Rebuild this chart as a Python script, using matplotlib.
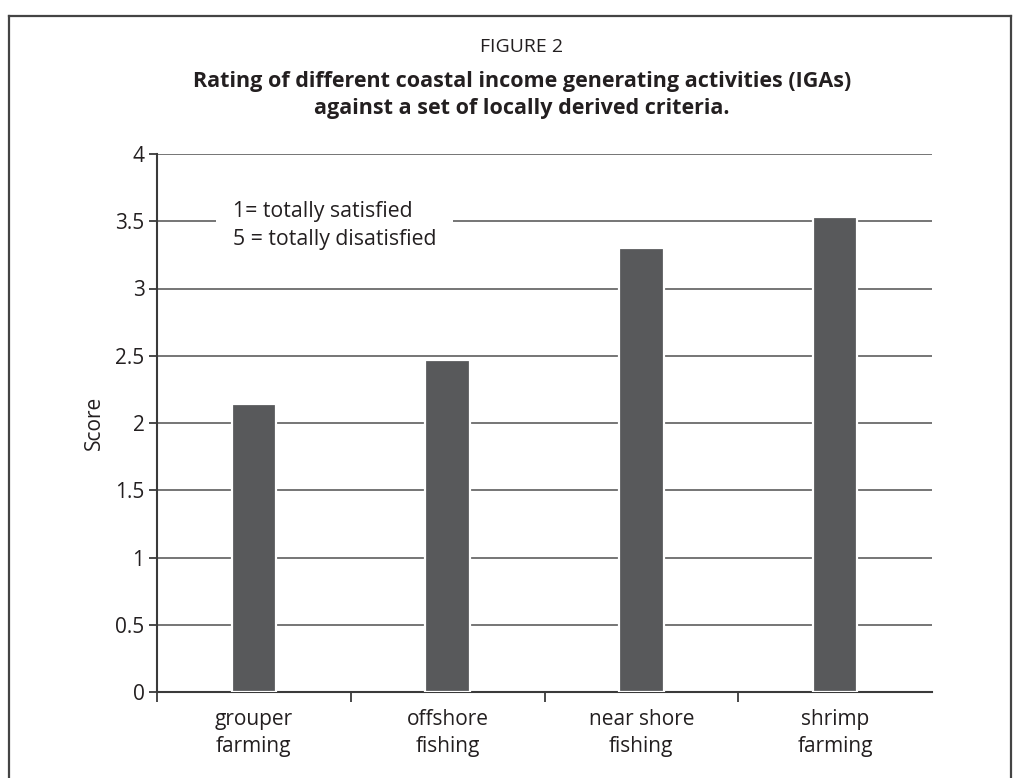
import matplotlib
matplotlib.use("Agg")
import matplotlib.pyplot as plt
from matplotlib.lines import Line2D

plt.rcParams['font.family'] = ['Open Sans', 'DejaVu Sans']

categories = ["grouper\nfarming", "offshore\nfishing", "near shore\nfishing", "shrimp\nfarming"]
scores = [2.14, 2.47, 3.30, 3.53]
yticks = [0, 0.5, 1, 1.5, 2, 2.5, 3, 3.5, 4]
ytick_labels = ["0", "0.5", "1", "1.5", "2", "2.5", "3", "3.5", "4"]

BAR_COLOR = "#58595b"
TEXT_COLOR = "#231f20"
GRID_COLOR = "#6a6a6a"
SPINE_COLOR = "#3a3a3a"

fig = plt.figure(figsize=(10.2, 7.78), dpi=100)
ax = fig.add_axes([157 / 1020, 1 - 692 / 778, (932 - 157) / 1020, (692 - 154) / 778])

x = list(range(len(categories)))
ax.bar(x, scores, width=0.23, color=BAR_COLOR, edgecolor="white", linewidth=1.6, zorder=3)

ax.set_xlim(-0.5, len(categories) - 0.5)
ax.set_ylim(0, 4)
ax.set_yticks(yticks)
ax.set_yticklabels(ytick_labels)
ax.yaxis.grid(True, color=GRID_COLOR, linewidth=1.3, zorder=1)
ax.set_axisbelow(True)

# category boundaries carry the tick marks, labels sit under the bars
ax.set_xticks([i - 0.5 for i in x])
ax.set_xticklabels([])
ax.set_xticks(x, minor=True)
ax.set_xticklabels(categories, minor=True, fontsize=15, color=TEXT_COLOR, linespacing=1.4)
ax.tick_params(axis="x", which="major", length=7, width=1.3, color=SPINE_COLOR, direction="out")
ax.tick_params(axis="x", which="minor", length=0, pad=12)
ax.tick_params(axis="y", length=6, width=1.3, color=SPINE_COLOR, labelsize=15, labelcolor=TEXT_COLOR, pad=3)

for side in ("top", "right"):
    ax.spines[side].set_visible(False)
for side in ("left", "bottom"):
    ax.spines[side].set_color(SPINE_COLOR)
    ax.spines[side].set_linewidth(1.5)

ax.set_ylabel("Score", fontsize=15, color=TEXT_COLOR, labelpad=7)

ax.text(-0.108, 3.47, "1= totally satisfied\n5 = totally disatisfied", fontsize=15.3,
        color=TEXT_COLOR, ha="left", va="center", linespacing=1.45, zorder=4,
        transform=ax.transData,
        bbox=dict(boxstyle="square,pad=0.8", facecolor="white", edgecolor="none"))

cx = 522 / 1020
fig.text(cx, 1 - 47 / 778, "FIGURE 2", fontsize=14, color=TEXT_COLOR, ha="center", va="center")
fig.text(cx, 1 - 95 / 778,
         "Rating of different coastal income generating activities (IGAs)\nagainst a set of locally derived criteria.",
         fontsize=15.5, fontweight="bold", color=TEXT_COLOR, ha="center", va="center", linespacing=1.42)

# frame around the figure
fx0, fx1, fy1 = 9.5 / 1020, 1011 / 1020, 1 - 15.7 / 778
for xs, ys in (([fx0, fx0], [0, fy1]), ([fx0, fx1], [fy1, fy1]), ([fx1, fx1], [fy1, 0])):
    fig.add_artist(Line2D(xs, ys, color="#444444", linewidth=1.6, transform=fig.transFigure))

fig.savefig("out.png", dpi=100, facecolor="white")
